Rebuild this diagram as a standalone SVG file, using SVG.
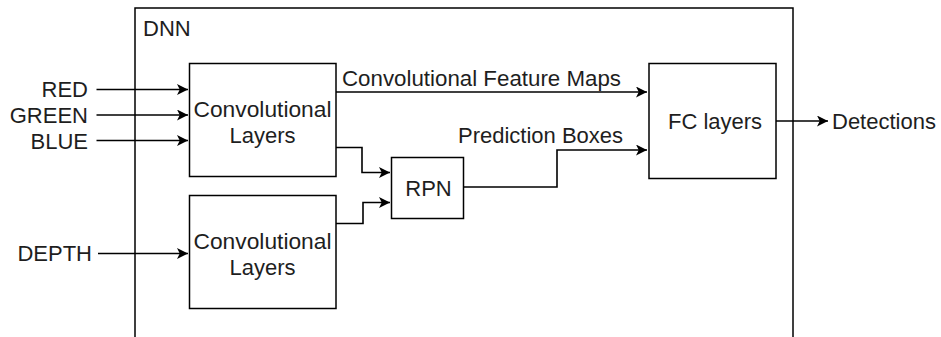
<svg xmlns="http://www.w3.org/2000/svg" width="941" height="337" viewBox="0 0 941 337">
  <style>
    .box { fill: #ffffff; stroke: #000000; stroke-width: 1.5; }
    .frame { fill: none; stroke: #000000; stroke-width: 1.5; }
    .edge { fill: none; stroke: #000000; stroke-width: 1.6; }
    .lbl { font-family: "Liberation Sans", Arial, sans-serif; font-size: 22px; fill: #1e1e1e; }
    .mid { text-anchor: middle; }
    .end { text-anchor: end; }
  </style>
  <defs>
    <marker id="arrow" markerUnits="userSpaceOnUse" markerWidth="12" markerHeight="12" refX="11" refY="5.5" orient="auto">
      <path d="M0,0 L11,5.5 L0,11 L2.75,5.5 Z" fill="#000000"/>
    </marker>
  </defs>
  <rect width="941" height="337" fill="#ffffff"/>

  <!-- outer network container (open at the bottom edge of the canvas) -->
  <g id="dnn">
    <rect class="frame" x="135" y="8" width="658" height="340"/>
    <text class="lbl" x="143" y="36">DNN</text>
  </g>

  <!-- input labels -->
  <g id="in-red"><text class="lbl end" x="88" y="97">RED</text></g>
  <g id="in-green"><text class="lbl end" x="88" y="123">GREEN</text></g>
  <g id="in-blue"><text class="lbl end" x="88" y="149">BLUE</text></g>
  <g id="in-depth"><text class="lbl end" x="92" y="261">DEPTH</text></g>

  <g id="conv-rgb">
    <rect class="box" x="189.5" y="63.5" width="146.5" height="113"/>
    <text class="lbl mid" x="262.5" y="117" textLength="138" lengthAdjust="spacingAndGlyphs">Convolutional</text>
    <text class="lbl mid" x="262.5" y="143">Layers</text>
  </g>

  <g id="conv-depth">
    <rect class="box" x="189.5" y="195.5" width="146.5" height="113"/>
    <text class="lbl mid" x="262.5" y="249" textLength="138" lengthAdjust="spacingAndGlyphs">Convolutional</text>
    <text class="lbl mid" x="262.5" y="275">Layers</text>
  </g>

  <g id="rpn">
    <rect class="box" x="391.5" y="157.5" width="72" height="61"/>
    <text class="lbl mid" x="428.5" y="196">RPN</text>
  </g>

  <g id="fc">
    <rect class="box" x="649" y="63.5" width="127" height="115"/>
    <text class="lbl" x="668" y="129">FC layers</text>
  </g>

  <g id="out-detections"><text class="lbl" x="832" y="129">Detections</text></g>

  <g id="connectors">
    <path class="edge" d="M96.5,89.5 H188" marker-end="url(#arrow)"/>
    <path class="edge" d="M96.5,115 H188" marker-end="url(#arrow)"/>
    <path class="edge" d="M96.5,140.5 H188" marker-end="url(#arrow)"/>
    <path class="edge" d="M98,253.5 H188" marker-end="url(#arrow)"/>
    <path class="edge" d="M336,92 H647" marker-end="url(#arrow)"/>
    <path class="edge" d="M336,147.5 H362 V172.5 H390" marker-end="url(#arrow)"/>
    <path class="edge" d="M336,223.5 H363 V202.5 H390" marker-end="url(#arrow)"/>
    <path class="edge" d="M463.5,187 H557 V150 H647" marker-end="url(#arrow)"/>
    <path class="edge" d="M776,121 H828" marker-end="url(#arrow)"/>
    <text class="lbl" x="342" y="86" textLength="279" lengthAdjust="spacingAndGlyphs">Convolutional Feature Maps</text>
    <text class="lbl" x="458" y="143">Prediction Boxes</text>
  </g>
</svg>
